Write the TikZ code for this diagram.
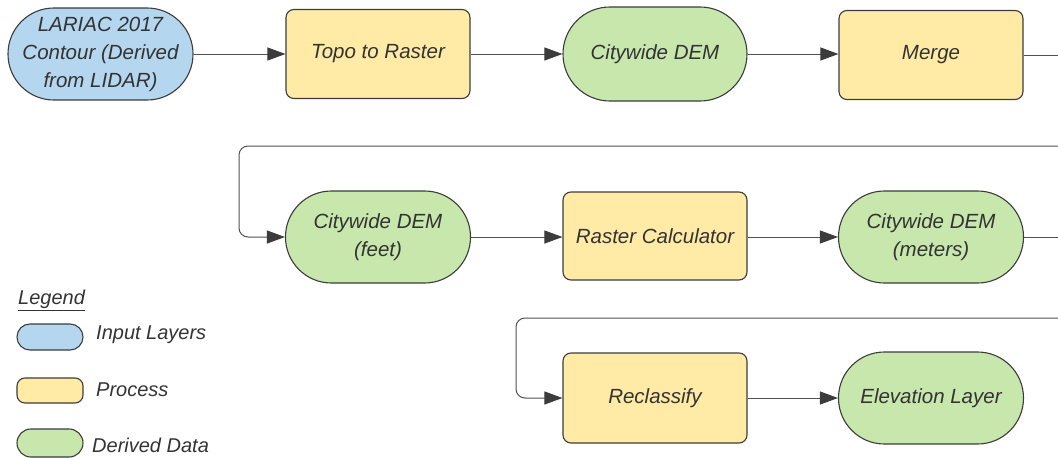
\documentclass[tikz,border=0pt]{standalone}
\usepackage{fontspec}
\setmainfont{Liberation Sans}
\usetikzlibrary{arrows.meta}
\definecolor{inblue}{HTML}{B4D6EF}
\definecolor{procyellow}{HTML}{FFEBA6}
\definecolor{dergreen}{HTML}{C7E7AD}
\definecolor{edge}{HTML}{3C3C3C}
\definecolor{txt}{HTML}{333333}
\definecolor{wire}{HTML}{505050}
\tikzset{
  base/.style={draw=edge, line width=1.1pt, text=txt, align=center, inner sep=1pt,
    rectangle, font=\itshape\fontsize{20.5}{28}\selectfont},
  % pill-shaped boxes: corner radius is just under half the height
  pill/.style={rounded corners=#1},
  inputbox/.style={base, pill=45.9pt, fill=inblue, minimum width=185pt, minimum height=92pt},
  procbox/.style={base, rounded corners=8pt, fill=procyellow, minimum width=184pt, minimum height=89pt},
  databox/.style={base, pill=45.9pt, fill=dergreen, minimum width=185pt, minimum height=92pt},
  flow/.style={draw=wire, line width=1pt, -{Triangle[length=18pt,width=13pt,color=edge]}},
  plain/.style={draw=wire, line width=1pt},
  legtext/.style={anchor=west, text=txt, font=\itshape\fontsize{20}{24}\selectfont, inner sep=0pt},
}
\begin{document}
\begin{tikzpicture}[x=1pt,y=-1pt]
\useasboundingbox (0,0) rectangle (1058,458);

% row 1
\node[inputbox] (lariac) at (100.5,54) {LARIAC 2017\\Contour (Derived\\from LIDAR)};
\node[procbox]  (topo)   at (378,54)   {Topo to Raster};
\node[databox, pill=46.9pt, minimum height=94pt, minimum width=184pt] (dem) at (655,54) {Citywide DEM};
\node[procbox]  (merge)  at (931,55)   {Merge};

% row 2
\node[databox] (feet)   at (378,237) {Citywide DEM\\(feet)};
\node[procbox, minimum height=88pt] (calc) at (655,236) {Raster Calculator};
\node[databox] (meters) at (931,237) {Citywide DEM\\(meters)};

% row 3
\node[procbox, minimum height=90pt] (reclass) at (655,398) {Reclassify};
\node[databox] (elev) at (931,398) {Elevation Layer};

% connectors
\coordinate (out1) at (1058,55);
\coordinate (in2)  at (1058,146);
\coordinate (turn2) at (239,146);
\coordinate (out2) at (1058,237);
\coordinate (in3)  at (1058,318);
\coordinate (turn3) at (516,318);

\draw[flow] (lariac) -- (topo);
\draw[flow] (topo) -- (dem);
\draw[flow] (dem) -- (merge.west |- dem.east);
\draw[plain] (merge.east) -- (out1);
\draw[flow, rounded corners=9pt] (in2) -- (turn2) |- (feet.west);
\draw[flow] (feet.east) -- (calc.west |- feet.east);
\draw[flow] (calc.east |- meters.west) -- (meters.west);
\draw[plain] (meters.east) -- (out2);
\draw[flow, rounded corners=9pt] (in3) -- (turn3) |- (reclass.west);
\draw[flow] (reclass) -- (elev);

% legend
\node[legtext] (legtitle) at (18,300) {\underline{Legend}};
\node[base, pill=12.9pt, fill=inblue, minimum width=66pt, minimum height=26pt, inner sep=0pt] (legin) at (50,337) {};
\node[legtext] (legintext) at (96,335) {Input Layers};
\node[base, rounded corners=8pt, fill=procyellow, minimum width=66pt, minimum height=25pt, inner sep=0pt] (legproc) at (50,390.5) {};
\node[legtext] (legproctext) at (96,390) {Process};
\node[base, pill=13.9pt, fill=dergreen, minimum width=66pt, minimum height=28pt, inner sep=0pt] (legder) at (50,443) {};
\node[legtext] (legdertext) at (92,445) {Derived Data};
\end{tikzpicture}
\end{document}
